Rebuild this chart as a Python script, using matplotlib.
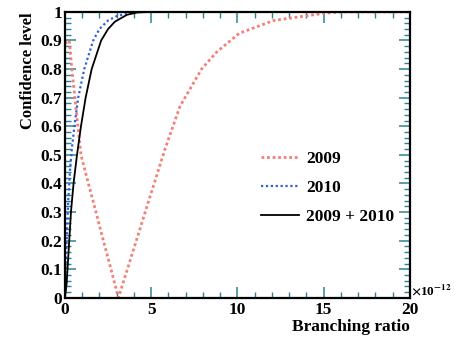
import numpy as np
import matplotlib
matplotlib.use('Agg')
import matplotlib.pyplot as plt
from matplotlib.ticker import MultipleLocator

# curves (x in units of 1e-12)
x_2009 = [0, 0.25, 0.4, 0.58, 0.75, 0.93, 1.36, 1.8, 2.23, 2.67, 3.1,
          3.62, 4.14, 4.86, 5.8, 6.67, 7.92, 8.8, 10.1, 12.1, 15.0, 16.0, 20.0]
cl_2009 = [0.89, 0.9, 0.8, 0.7, 0.6, 0.5, 0.4, 0.3, 0.2, 0.1, 0.0,
           0.1, 0.2, 0.34, 0.52, 0.67, 0.8, 0.86, 0.925, 0.97, 0.995, 1.0, 1.0]

x_2010 = [0, 0.05, 0.1, 0.2, 0.3, 0.4, 0.55, 0.77, 1.12, 1.64, 2.0,
          2.5, 3.0, 3.6, 4.2, 20.0]
cl_2010 = [0.0, 0.12, 0.2, 0.35, 0.45, 0.52, 0.6, 0.7, 0.8, 0.9, 0.94,
           0.97, 0.985, 0.995, 1.0, 1.0]

x_comb = [0, 0.1, 0.25, 0.35, 0.5, 0.7, 0.93, 1.2, 1.55, 2.1, 2.5,
          2.9, 3.6, 4.2, 5.0, 20.0]
cl_comb = [0.0, 0.05, 0.2, 0.3, 0.4, 0.5, 0.6, 0.7, 0.8, 0.9, 0.94,
           0.966, 0.99, 0.998, 1.0, 1.0]

plt.rcParams['font.family'] = ['Liberation Serif', 'DejaVu Serif']
plt.rcParams['font.weight'] = 'bold'
plt.rcParams['mathtext.fontset'] = 'stix'

fig = plt.figure(figsize=(4.54, 3.40), dpi=100)
ax = fig.add_axes([0.143, 0.124, 0.760, 0.841])

ax.plot(x_2009, cl_2009, color='#f47f78', lw=2, ls=(0, (1, 1)), label='2009')
ax.plot(x_2010, cl_2010, color='#2f5fd8', lw=1.6, ls=(0, (1, 1.2)), label='2010')
ax.plot(x_comb, cl_comb, color='black', lw=1.3, label='2009 + 2010')

ax.set_xlim(0, 20)
ax.set_ylim(0, 1)
ax.xaxis.set_major_locator(MultipleLocator(5))
ax.xaxis.set_minor_locator(MultipleLocator(1))
ax.yaxis.set_major_locator(MultipleLocator(0.1))
ax.yaxis.set_minor_locator(MultipleLocator(0.02))
ax.set_xticks([0, 5, 10, 15, 20], ['0', '5', '10', '15', '20'])
ax.set_yticks(np.arange(0, 1.01, 0.1),
              ['0', '0.1', '0.2', '0.3', '0.4', '0.5', '0.6', '0.7', '0.8', '0.9', '1'])

tc = '#2b8294'
ax.tick_params(which='both', direction='in', top=True, right=True, color=tc,
               labelsize=12.5, pad=2)
ax.tick_params(axis='x', pad=3)
ax.tick_params(which='major', length=8, width=1.1)
ax.tick_params(which='minor', length=4, width=1.0)
for s in ax.spines.values():
    s.set_linewidth(1.6)
    s.set_color('black')

ax.text(1.003, 0.0, r'$\times$10$^{-12}$', transform=ax.transAxes,
        ha='left', va='bottom', fontsize=9.5)
ax.set_xlabel('Branching ratio', fontsize=12.5, fontweight='bold', loc='right',
              labelpad=1)
ax.set_ylabel('Confidence level', fontsize=12, fontweight='bold', loc='top',
              labelpad=3)

ax.legend(loc='lower right', bbox_to_anchor=(1.0, 0.2), frameon=False,
          fontsize=12.5, handlelength=2.2, labelspacing=0.75, handletextpad=0.4)

fig.savefig('out.png', dpi=100)
